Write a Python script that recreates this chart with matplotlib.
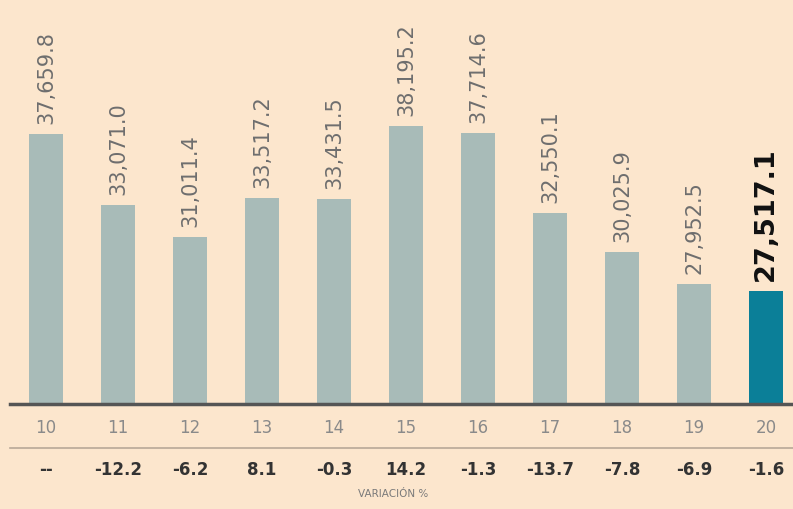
import matplotlib.pyplot as plt
from matplotlib.lines import Line2D
from matplotlib.transforms import blended_transform_factory

years = ["10", "11", "12", "13", "14", "15", "16", "17", "18", "19", "20"]
values = [37659.8, 33071.0, 31011.4, 33517.2, 33431.5, 38195.2, 37714.6,
          32550.1, 30025.9, 27952.5, 27517.1]
variation = ["--", "-12.2", "-6.2", "8.1", "-0.3", "14.2", "-1.3",
             "-13.7", "-7.8", "-6.9", "-1.6"]

bg = "#fce6cd"
bar_color = "#a8bbb8"
last_color = "#0b7f98"
font = "DejaVu Sans"

fig = plt.figure(figsize=(7.93, 5.10), dpi=100, facecolor=bg)
ax = fig.add_axes([10 / 793, 1 - 405 / 510, 1 - 10 / 793, 405 / 510])
ax.set_facecolor(bg)

x = list(range(len(years)))
colors = [bar_color] * (len(years) - 1) + [last_color]
ax.bar(x, values, width=0.47, color=colors, zorder=2)
ax.set_xlim(-0.5, 10.375)
ax.set_ylim(20200, 46400)

for i, v in enumerate(values):
    last = i == len(values) - 1
    ax.annotate(f"{v:,.1f}", (i, v), xytext=(0, 8), textcoords="offset points",
                rotation=90, ha="center", va="bottom",
                fontsize=19.5 if last else 15,
                fontweight="bold" if last else "normal",
                color="#111111" if last else "#6e6e6e", family=font)

for s in ["top", "right", "left"]:
    ax.spines[s].set_visible(False)
ax.spines["bottom"].set_color("#555555")
ax.spines["bottom"].set_linewidth(2.5)
ax.set_yticks([])
ax.set_xticks(x)
ax.set_xticklabels(years, fontsize=12, color="#8a8a8a", family=font)
ax.tick_params(axis="x", length=0, pad=10)

trans = blended_transform_factory(ax.transData, fig.transFigure)
for i, t in enumerate(variation):
    ax.text(i, 1 - 470 / 510, t, transform=trans, ha="center", va="center",
            fontsize=12, fontweight="bold", color="#333333", family=font)

fig.add_artist(Line2D([10 / 793, 1], [1 - 449 / 510] * 2, color="#b8a898",
                      linewidth=1.2, transform=fig.transFigure))
fig.text(393 / 793, 1 - 494 / 510, "VARIACIÓN %", ha="center", va="center",
         fontsize=7.5, color="#7a7a7a", family=font)

fig.savefig("out.png", dpi=100, facecolor=bg)
